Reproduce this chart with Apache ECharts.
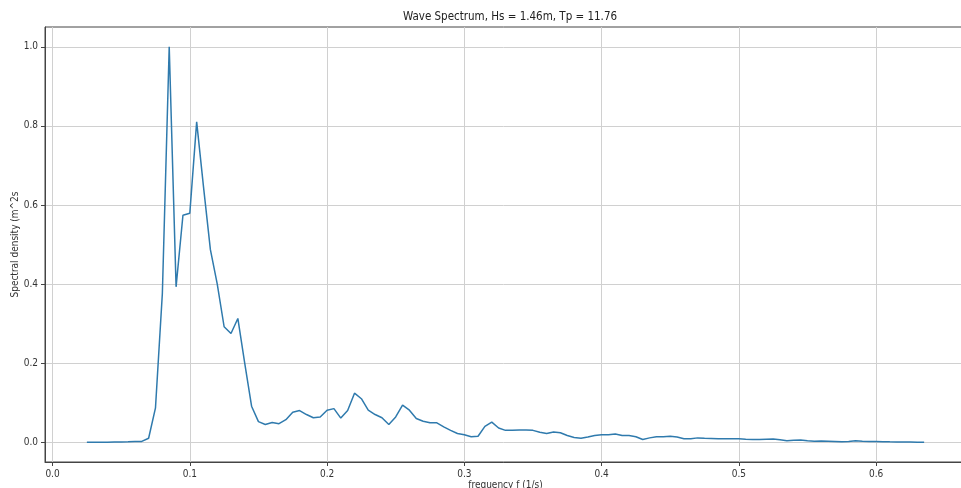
<!DOCTYPE html>
<html>
<head>
<meta charset="utf-8">
<script src="https://cdn.jsdelivr.net/npm/echarts@6/dist/echarts.min.js"></script>
<style>
html,body{margin:0;padding:0;background:#fff;}
#chart{width:961px;height:488px;}
</style>
</head>
<body>
<div id="chart"></div>
<script>
const frequencies = [
 0.025,0.030,0.035,0.040,0.045,0.050,0.055,0.060,0.065,0.070,
 0.075,0.080,0.085,0.090,0.095,0.100,0.105,0.110,0.115,0.120,
 0.125,0.130,0.135,0.140,0.145,0.150,0.155,0.160,0.165,0.170,
 0.175,0.180,0.185,0.190,0.195,0.200,0.205,0.210,0.215,0.220,
 0.225,0.230,0.235,0.240,0.245,0.250,0.255,0.260,0.265,0.270,
 0.275,0.280,0.285,0.290,0.295,0.300,0.305,0.310,0.315,0.320,
 0.325,0.330,0.335,0.340,0.345,0.350,0.355,0.360,0.365,0.370,
 0.375,0.380,0.385,0.390,0.395,0.400,0.405,0.410,0.415,0.420,
 0.425,0.430,0.435,0.440,0.445,0.450,0.455,0.460,0.465,0.470,
 0.475,0.480,0.485,0.490,0.495,0.500,0.505,0.510,0.515,0.520,
 0.525,0.530,0.535,0.540,0.545,0.550,0.555,0.560,0.565,0.570,
 0.575,0.580,0.585,0.590,0.595,0.600,0.605,0.610,0.615,0.620,
 0.625,0.630,0.635
];
const density = [
 0,0,0,0,0.0005,0.0008,0.001,0.002,0.002,0.010,
 0.087,0.376,1.000,0.393,0.574,0.579,0.810,0.645,0.487,0.400,
 0.292,0.275,0.313,0.200,0.091,0.052,0.045,0.050,0.047,0.057,
 0.076,0.080,0.070,0.062,0.064,0.081,0.085,0.061,0.080,0.124,
 0.110,0.081,0.070,0.062,0.045,0.064,0.094,0.081,0.060,0.053,
 0.049,0.049,0.039,0.030,0.022,0.019,0.014,0.015,0.040,0.051,
 0.036,0.030,0.030,0.031,0.031,0.030,0.025,0.022,0.026,0.024,
 0.017,0.012,0.010,0.013,0.017,0.019,0.019,0.021,0.017,0.017,
 0.014,0.007,0.011,0.014,0.014,0.015,0.013,0.009,0.009,0.011,
 0.010,0.0095,0.009,0.009,0.0088,0.0085,0.0075,0.0068,0.007,0.0078,
 0.0082,0.006,0.0035,0.005,0.0058,0.004,0.0025,0.0028,0.0025,0.0018,
 0.001,0.002,0.0035,0.0025,0.0018,0.0018,0.0015,0.001,0.0006,0.0004,
 0.0003,0.0002,0.0001
];
const xTicks = [0.0,0.1,0.2,0.3,0.4,0.5,0.6];
const yTicks = [0.0,0.2,0.4,0.6,0.8,1.0];
const titleText = 'Wave Spectrum, Hs = 1.46m, Tp = 11.76';
const xName = 'frequency f (1/s)';
const yName = 'Spectral density (m^2s';

const FONT = 'DejaVu Sans Condensed';
const chart = echarts.init(document.getElementById('chart'), null, {renderer:'canvas'});
chart.setOption({
  animation:false,
  backgroundColor:'#fff',
  title:{
    text:titleText, left:505, top:6, textAlign:'center',
    textStyle:{fontFamily:FONT, fontSize:11.5, fontWeight:'normal', color:'#222'}
  },
  grid:{
    left:45, right:-5, top:27, bottom:26,
    show:true, borderColor:'#444', borderWidth:1, backgroundColor:'transparent',
    containLabel:false, outerBoundsMode:'none'
  },
  xAxis:{
    type:'value', min:-0.0055, max:0.6655,
    name:xName, nameLocation:'middle', nameGap:18, nameMoveOverlap:false,
    nameTextStyle:{fontFamily:FONT, fontSize:10, color:'#333'},
    axisLine:{onZero:false, lineStyle:{color:'#444', width:1}},
    axisTick:{show:true, length:4, inside:false, customValues:xTicks, lineStyle:{color:'#444'}},
    axisLabel:{customValues:xTicks, margin:7, fontFamily:FONT, fontSize:10, color:'#333',
      formatter:v=>v.toFixed(1)},
    splitLine:{show:true, lineStyle:{color:'#d0d0d0', width:1}}
  },
  yAxis:{
    type:'value', min:-0.05, max:1.05,
    name:yName, nameLocation:'middle', nameGap:25, nameMoveOverlap:false,
    nameTextStyle:{fontFamily:FONT, fontSize:10, color:'#333'},
    axisLine:{show:true, onZero:false, lineStyle:{color:'#444', width:1}},
    axisTick:{show:true, length:4, inside:false, customValues:yTicks, lineStyle:{color:'#444'}},
    axisLabel:{customValues:yTicks, margin:7, fontFamily:FONT, fontSize:10, color:'#333',
      formatter:v=>v.toFixed(1)},
    splitLine:{show:true, lineStyle:{color:'#d0d0d0', width:1}}
  },
  series:[{
    type:'line',
    data:frequencies.map((f,i)=>[f,density[i]]),
    showSymbol:false, symbol:'none',
    lineStyle:{color:'#2f7aad', width:1.5},
    z:3
  }]
});
</script>
</body>
</html>
